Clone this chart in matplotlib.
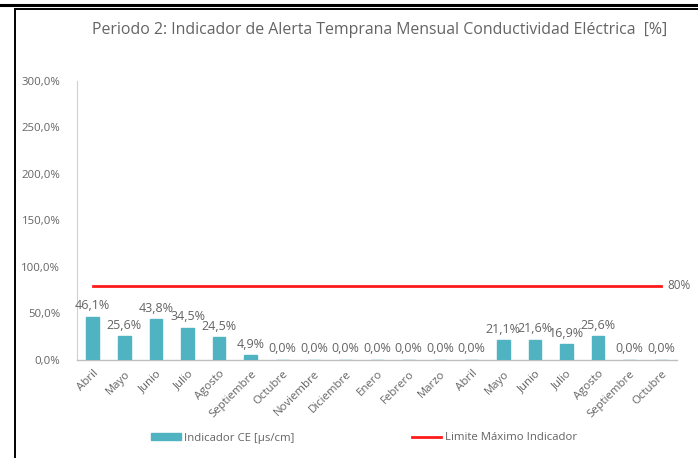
import numpy as np
import matplotlib
matplotlib.use("Agg")
import matplotlib.pyplot as plt
from matplotlib.lines import Line2D
from matplotlib.patches import Rectangle

plt.rcParams["font.family"] = ["Open Sans", "DejaVu Sans"]

_TEXT = "#646464"
_BAR = "#4FB3C1"
_LIM = "#FF1A1A"
_AXIS = "#D0D0D0"

months = ["Abril", "Mayo", "Junio", "Julio", "Agosto", "Septiembre", "Octubre",
          "Noviembre", "Diciembre", "Enero", "Febrero", "Marzo", "Abril", "Mayo",
          "Junio", "Julio", "Agosto", "Septiembre", "Octubre"]
indicador_ce = [46.1, 25.6, 43.8, 34.5, 24.5, 4.9, 0.0, 0.0, 0.0, 0.0, 0.0, 0.0,
                0.0, 21.1, 21.6, 16.9, 25.6, 0.0, 0.0]
limite = [80.0] * len(months)
y_ticks = [0, 50, 100, 150, 200, 250, 300]


def pct(v, dec=1):
    return f"{v:.{dec}f}%".replace(".", ",")


W, H = 698, 458
fig = plt.figure(figsize=(W / 100, H / 100), dpi=100, facecolor="white")

# outer frame
fig.add_artist(Line2D([0, 1], [1 - 5 / H, 1 - 5 / H], color="black", lw=2.2,
                      transform=fig.transFigure))
fig.add_artist(Rectangle((15 / W, -0.05), 1.0, 1 - 9 / H + 0.05, fill=False,
                         edgecolor="black", lw=1.4, transform=fig.transFigure))

ax = fig.add_axes([77 / W, 1 - 360 / H, 600 / W, 279 / H])
x = np.arange(len(months))

bars = ax.bar(x, indicador_ce, width=0.4, color=_BAR, edgecolor=_BAR, zorder=3,
              label="Indicador CE [µs/cm]")
line, = ax.plot(x, limite, color=_LIM, lw=2, zorder=4,
                label="Limite Máximo Indicador")
ax.text(x[-1] + 0.2, limite[-1], pct(limite[-1], 0), color=_TEXT, fontsize=8.5,
        va="center", ha="left")

for xi, v in zip(x, indicador_ce):
    ax.text(xi, v + 5, pct(v), ha="center", va="bottom", color=_TEXT, fontsize=9)

ax.set_xlim(-0.5, len(months) - 0.5)
ax.set_ylim(0, 300)
ax.set_yticks(y_ticks)
ax.set_yticklabels([pct(t) for t in y_ticks])
ax.set_xticks(x)
ax.set_xticklabels(months, rotation=45, ha="right", rotation_mode="anchor")
ax.tick_params(axis="both", length=0, colors=_TEXT, labelsize=8.2)
ax.tick_params(axis="y", pad=12)
ax.tick_params(axis="x", pad=6)

for side in ["top", "right"]:
    ax.spines[side].set_visible(False)
ax.spines["left"].set_color(_AXIS)
ax.spines["bottom"].set_color("#BFBFBF")
ax.spines["bottom"].set_linewidth(1.0)

fig.text(380 / W, 1 - 30 / H,
         "Periodo 2: Indicador de Alerta Temprana Mensual Conductividad Eléctrica  [%]",
         ha="center", va="center", color=_TEXT, fontsize=11.4)

fig.legend(handles=[bars, line], loc="center", bbox_to_anchor=(364 / W, 1 - 438 / H),
           ncol=2, frameon=False, fontsize=8.2, labelcolor=_TEXT,
           handlelength=2.6, handleheight=0.6, columnspacing=10.3,
           handletextpad=0.3)

fig.savefig("out.png", dpi=100, facecolor="white")
